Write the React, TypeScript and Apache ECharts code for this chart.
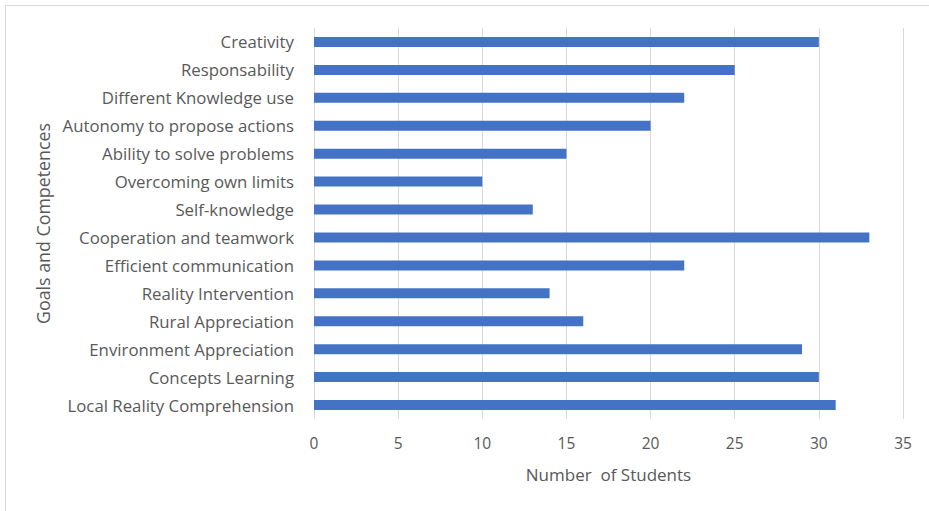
import React, { useEffect, useRef } from "react";
import * as echarts from "echarts";

const categories = [
  "Creativity",
  "Responsability",
  "Different Knowledge use",
  "Autonomy to propose actions",
  "Ability to solve problems",
  "Overcoming own limits",
  "Self-knowledge",
  "Cooperation and teamwork",
  "Efficient communication",
  "Reality Intervention",
  "Rural Appreciation",
  "Environment Appreciation",
  "Concepts Learning",
  "Local Reality Comprehension",
];
const students = [30, 25, 22, 20, 15, 10, 13, 33, 22, 14, 16, 29, 30, 31];
const xTicks = { min: 0, max: 35, interval: 5 };
const xTitle = "Number  of Students";
const yTitle = "Goals and Competences";

export default function App() {
  const ref = useRef<HTMLDivElement>(null);
  useEffect(() => {
    if (!ref.current) return;
    const chart = echarts.init(ref.current, null, { renderer: "svg" });
    const font = "'Open Sans', 'Liberation Sans', sans-serif";
    chart.setOption({
      animation: false,
      backgroundColor: "#ffffff",
      textStyle: { fontFamily: font },
      grid: { left: 314, right: 26, top: 28, bottom: 92, containLabel: false },
      xAxis: {
        type: "value",
        min: xTicks.min,
        max: xTicks.max,
        interval: xTicks.interval,
        axisLine: { show: false },
        axisTick: { show: false },
        splitLine: { show: true, lineStyle: { color: "#d9d9d9", width: 1 } },
        axisLabel: { color: "#595959", fontSize: 15.5, fontFamily: font, margin: 16 },
        name: xTitle,
        nameLocation: "middle",
        nameGap: 47,
        nameTextStyle: { color: "#595959", fontSize: 17, fontFamily: font },
      },
      yAxis: {
        type: "category",
        data: categories.slice().reverse(),
        axisLine: { show: false },
        axisTick: { show: false },
        axisLabel: { color: "#595959", fontSize: 16.8, fontFamily: font, margin: 20 },
        name: yTitle,
        nameLocation: "middle",
        nameGap: 252,
        nameRotate: 90,
        nameTextStyle: { color: "#595959", fontSize: 17.8, fontFamily: font },
      },
      series: [
        {
          type: "bar",
          data: students.slice().reverse(),
          barWidth: 10,
          itemStyle: { color: "#4472c4" },
        },
      ],
      graphic: [
        { type: "line", shape: { x1: 5.5, y1: 5.5, x2: 929, y2: 5.5 }, style: { stroke: "#d9d9d9", lineWidth: 1 } },
        { type: "line", shape: { x1: 5.5, y1: 5.5, x2: 5.5, y2: 511 }, style: { stroke: "#d9d9d9", lineWidth: 1 } },
      ],
    });
    return () => chart.dispose();
  }, []);
  return <div ref={ref} style={{ position: "fixed", left: 0, top: 0, width: 929, height: 511 }} />;
}
